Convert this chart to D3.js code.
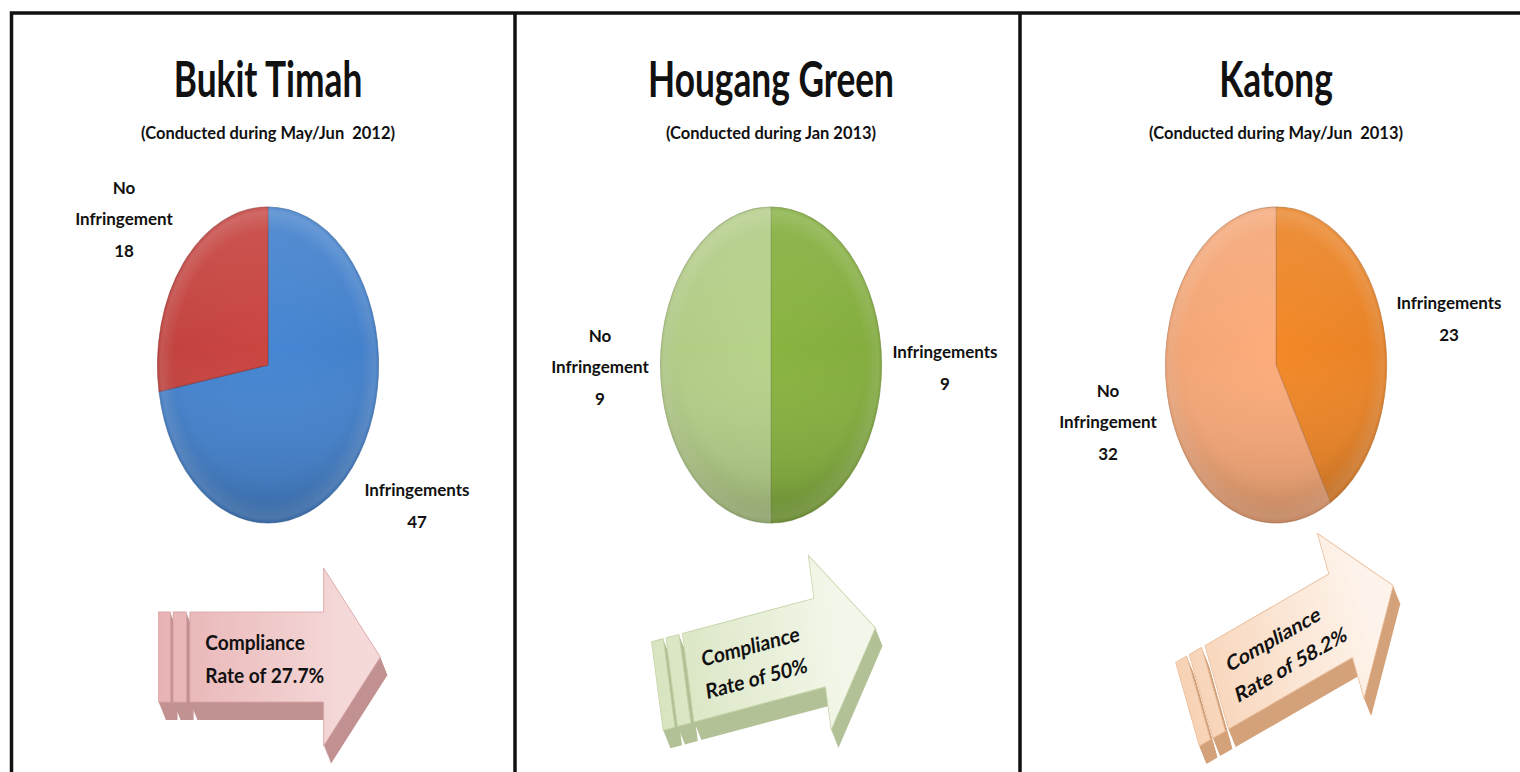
<!DOCTYPE html>
<html>
<head>
<meta charset="utf-8">
<script src="https://cdn.jsdelivr.net/npm/d3@7"></script>
<style>
  body { margin: 0; background: #fff; }
  svg { display: block; }
  text { font-family: Lato, "Open Sans", sans-serif; fill: #111; }
</style>
</head>
<body>
<div id="chart"></div>
<script>
// survey data
var sites = ["Bukit Timah", "Hougang Green", "Katong"];
var periods = ["(Conducted during May/Jun  2012)", "(Conducted during Jan 2013)", "(Conducted during May/Jun  2013)"];
var categories = ["Infringements", "No Infringement"];
var infringements = [47, 9, 23];
var noInfringement = [18, 9, 32];
var complianceRates = ["27.7%", "50%", "58.2%"];

// styling per panel
var sliceColors = [["#4481cc", "#c4433f"], ["#84ae3e", "#b2cc86"], ["#ea8326", "#f4a676"]];
var arrowColors = [
  { light: "#f5d9d9", dark: "#e8b2b3", side: "#c29192", edge: "#d9a5a6" },
  { light: "#f3f7ea", dark: "#d8e4bf", side: "#b3c197", edge: "#c6d4a9" },
  { light: "#fef3ea", dark: "#f7d2b5", side: "#d4a27a", edge: "#ebc09f" }
];
var arrowAngles = [0, -10.6, -22];
var arrowCenters = [[269, 657], [766, 657], [1290, 645]];
var labelOffsets = [
  [[149, 141], [-144, -146]],
  [[174, 3], [-171, 2]],
  [[173, -46], [-168, 57]]
];

var W = 1520, H = 772;
var panelLeft = [12, 515, 1020];
var pieCx = panelLeft.map(function (d) { return d + 256; });
var pieCy = 365;
var radius = 158, squish = 0.7;

var svg = d3.select("#chart").append("svg")
  .attr("width", W).attr("height", H);
var defs = svg.append("defs");

// frame
svg.append("path")
  .attr("d", "M11.5,772 V13 H1520 M515,13 V772 M1020,13 V772")
  .attr("fill", "none").attr("stroke", "#111").attr("stroke-width", 3.5);

var pie = d3.pie().sort(null).value(function (d) { return d.value; });
var arc = d3.arc().innerRadius(0).outerRadius(radius);

// shared overlays for bevel look
var rim = defs.append("radialGradient").attr("id", "rim")
  .attr("gradientUnits", "userSpaceOnUse").attr("cx", 0).attr("cy", 0).attr("r", radius);
rim.append("stop").attr("offset", 0.85).attr("stop-color", "#fff").attr("stop-opacity", 0);
rim.append("stop").attr("offset", 0.97).attr("stop-color", "#fff").attr("stop-opacity", 0.12);
rim.append("stop").attr("offset", 1).attr("stop-color", "#fff").attr("stop-opacity", 0);
var shade = defs.append("linearGradient").attr("id", "shade")
  .attr("x1", 0).attr("y1", 0).attr("x2", 0).attr("y2", 1);
shade.append("stop").attr("offset", 0).attr("stop-color", "#fff").attr("stop-opacity", 0.1);
shade.append("stop").attr("offset", 0.45).attr("stop-color", "#fff").attr("stop-opacity", 0);
shade.append("stop").attr("offset", 1).attr("stop-color", "#000").attr("stop-opacity", 0.14);

// arrow outline in unsquished local coordinates
var arrowBody = [[-113, -45], [78, -45], [78, -89], [159, 0], [78, 89], [78, 45], [-113, 45]];
var stripes = [[-158, -141], [-137, -118]];
var line = d3.line();

sites.forEach(function (site, i) {
  var cx = pieCx[i];

  // title and subtitle
  svg.append("text")
    .attr("transform", "translate(" + cx + ",97) scale(0.72,1)")
    .attr("text-anchor", "middle")
    .style("font-size", "49px").style("font-weight", 700)
    .text(site);
  svg.append("text")
    .attr("transform", "translate(" + cx + ",139) scale(0.97,1)")
    .attr("text-anchor", "middle")
    .style("font-size", "17px").style("font-weight", 700)
    .style("white-space", "pre")
    .text(periods[i]);

  // pie
  var data = [
    { cat: categories[0], value: infringements[i] },
    { cat: categories[1], value: noInfringement[i] }
  ];
  var g = svg.append("g")
    .attr("transform", "translate(" + cx + "," + pieCy + ") scale(" + squish + ",1)");

  data.forEach(function (d, j) {
    var c = d3.color(sliceColors[i][j]);
    var gr = defs.append("radialGradient").attr("id", "sl" + i + j)
      .attr("gradientUnits", "userSpaceOnUse")
      .attr("cx", 0).attr("cy", -20).attr("r", radius * 1.05);
    gr.append("stop").attr("offset", 0).attr("stop-color", c.brighter(0.1));
    gr.append("stop").attr("offset", 0.8).attr("stop-color", c);
    gr.append("stop").attr("offset", 1).attr("stop-color", c.darker(0.2));
  });

  g.selectAll("path.slice")
    .data(pie(data))
    .enter().append("path")
    .attr("class", "slice")
    .attr("d", arc)
    .attr("fill", function (d, j) { return "url(#sl" + i + j + ")"; })
    .attr("stroke", function (d, j) { return d3.color(sliceColors[i][j]).darker(0.9); })
    .attr("stroke-opacity", 0.6)
    .attr("stroke-width", 1.2);

  g.append("circle").attr("r", radius).attr("fill", "url(#rim)");
  g.append("circle").attr("r", radius).attr("fill", "url(#shade)");

  // data labels
  data.forEach(function (d, j) {
    var lines = d.cat === "No Infringement" ? ["No", "Infringement", d.value] : ["Infringements", d.value];
    var off = labelOffsets[i][j];
    var t = svg.append("text")
      .attr("text-anchor", "middle")
      .style("font-size", "17px").style("font-weight", 700);
    lines.forEach(function (s, k) {
      t.append("tspan")
        .attr("x", cx + off[0])
        .attr("y", pieCy + off[1] + 6 + (k - (lines.length - 1) / 2) * 31.5)
        .text(s);
    });
  });

  // compliance arrow
  var col = arrowColors[i];
  var ag = defs.append("linearGradient").attr("id", "ar" + i)
    .attr("gradientUnits", "userSpaceOnUse")
    .attr("x1", -158).attr("y1", 0).attr("x2", 159).attr("y2", 0);
  ag.append("stop").attr("offset", 0).attr("stop-color", col.dark);
  ag.append("stop").attr("offset", 0.85).attr("stop-color", col.light);

  var ac = arrowCenters[i];
  function arrowGroup(dx, dy) {
    return svg.append("g")
      .attr("transform", "translate(" + (ac[0] + dx) + "," + (ac[1] + dy) + ") scale(" + squish + ",1) rotate(" + arrowAngles[i] + ")");
  }
  function drawShape(a, fill, stroke) {
    a.append("path").attr("d", line(arrowBody) + "Z")
      .attr("fill", fill).attr("stroke", stroke).attr("stroke-width", 1);
    stripes.forEach(function (s) {
      a.append("rect").attr("x", s[0]).attr("y", -45).attr("width", s[1] - s[0]).attr("height", 90)
        .attr("fill", fill).attr("stroke", stroke).attr("stroke-width", 1);
    });
  }
  // extrusion
  d3.range(12, 0, -1).forEach(function (k) {
    drawShape(arrowGroup(k * 0.6, k * 1.5), col.side, "none");
  });
  var face = arrowGroup(0, 0);
  drawShape(face, "url(#ar" + i + ")", col.edge);
  var txt = face.append("text")
    .attr("transform", "scale(1.3,1)")
    .style("font-size", "21px").style("font-weight", 700);
  txt.append("tspan").attr("x", -70).attr("y", -7).text("Compliance");
  txt.append("tspan").attr("x", -70).attr("y", 26).text("Rate of " + complianceRates[i]);
});
</script>
</body>
</html>
